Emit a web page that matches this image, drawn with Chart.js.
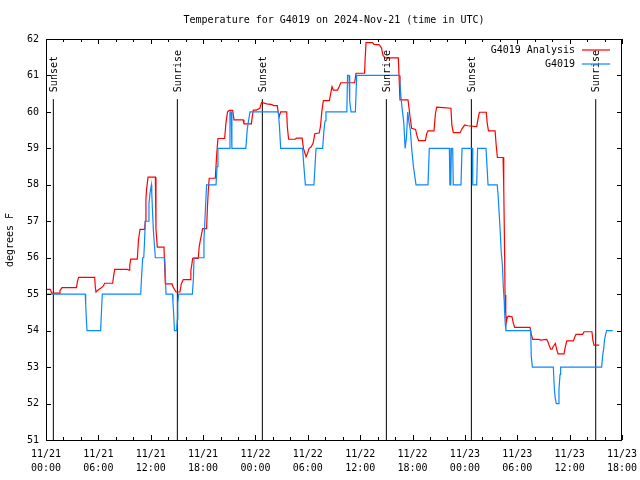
<!DOCTYPE html>
<html>
<head>
<meta charset="utf-8">
<script src="https://cdn.jsdelivr.net/npm/chart.js@4.4.0/dist/chart.umd.min.js"></script>
<style>
  html, body { margin: 0; padding: 0; background: #fff; }
  #wrap { width: 640px; height: 480px; }
</style>
</head>
<body>
<div id="wrap"><canvas id="tempChart" width="640" height="480"></canvas></div>
<script>
// Time is hours since 11/21 00:00 UTC
const xTickDates = ['11/21', '11/21', '11/21', '11/21', '11/22', '11/22', '11/22', '11/22', '11/23', '11/23', '11/23', '11/23'];
const xTickTimes = ['00:00', '06:00', '12:00', '18:00', '00:00', '06:00', '12:00', '18:00', '00:00', '06:00', '12:00', '18:00'];
const yTicks = [51, 52, 53, 54, 55, 56, 57, 58, 59, 60, 61, 62];

// G4019 Analysis (red)
const analysisHours = [0, 0.5, 0.65, 1.53, 1.6, 1.83, 3.5, 3.6, 3.74, 5.58, 5.65, 5.73, 6.0, 6.3, 6.55, 6.72, 7.64, 7.75, 7.87, 9.3, 9.55, 9.6, 9.7, 10.46, 10.6, 10.77, 11.3, 11.38, 11.45, 11.52, 11.69, 12.53, 12.6, 12.75, 13.52, 13.6, 13.67, 14.44, 14.6, 14.75, 14.9, 15.35, 15.5, 15.73, 16.5, 16.6, 16.72, 16.8, 17.45, 17.55, 17.7, 17.95, 18.4, 18.5, 18.6, 18.7, 19.4, 19.55, 19.7, 20.47, 20.62, 20.8, 21.0, 21.39, 21.54, 22.6, 22.68, 23.53, 23.65, 23.76, 24.1, 24.5, 24.7, 25.3, 25.9, 26.1, 26.5, 26.6, 26.72, 26.89, 27.58, 27.65, 27.8, 28.57, 28.7, 29.35, 29.5, 29.8, 29.95, 30.15, 30.35, 30.6, 30.8, 31.3, 31.45, 31.6, 31.78, 32.47, 32.62, 32.77, 32.92, 33.4, 33.6, 33.77, 35.37, 35.52, 36.5, 36.58, 36.67, 37.43, 37.58, 38.2, 38.45, 38.6, 38.85, 40.37, 40.45, 40.56, 41.48, 41.6, 41.75, 41.9, 42.35, 42.5, 42.7, 43.47, 43.62, 43.77, 44.46, 44.62, 44.77, 45.5, 46.4, 46.5, 46.67, 47.44, 47.7, 47.97, 48.3, 49.35, 49.5, 49.66, 50.45, 50.55, 50.7, 51.46, 51.58, 51.72, 52.37, 52.45, 52.53, 52.6, 52.68, 52.75, 52.87, 53.0, 53.4, 53.55, 53.7, 55.46, 55.6, 55.77, 56.5, 56.65, 57.37, 57.5, 57.65, 57.83, 57.98, 58.1, 58.37, 58.5, 58.67, 59.35, 59.5, 59.67, 60.43, 60.58, 60.73, 61.5, 61.65, 62.56, 62.65, 62.79, 63.4];
const analysisTemps = [55.13, 55.13, 55.03, 55.03, 55.1, 55.18, 55.18, 55.35, 55.46, 55.46, 55.2, 55.06, 55.12, 55.17, 55.22, 55.3, 55.3, 55.5, 55.68, 55.68, 55.66, 55.8, 55.96, 55.96, 56.5, 56.78, 56.78, 57.0, 57.6, 57.86, 58.21, 58.21, 56.78, 56.29, 56.29, 55.75, 55.28, 55.28, 55.18, 55.12, 55.06, 55.06, 55.28, 55.4, 55.4, 55.65, 55.83, 55.98, 55.98, 56.3, 56.5, 56.8, 56.8, 57.4, 57.86, 58.18, 58.18, 58.8, 59.27, 59.27, 59.7, 60.0, 60.04, 60.04, 59.78, 59.78, 59.67, 59.67, 59.9, 60.05, 60.05, 60.1, 60.26, 60.22, 60.2, 60.17, 60.17, 60.0, 59.87, 60.0, 60.0, 59.6, 59.25, 59.25, 59.28, 59.28, 59.0, 58.77, 58.85, 59.0, 59.03, 59.14, 59.4, 59.42, 59.6, 60.0, 60.31, 60.31, 60.5, 60.69, 60.6, 60.6, 60.7, 60.8, 60.8, 61.06, 61.06, 61.5, 61.9, 61.9, 61.85, 61.84, 61.75, 61.56, 61.48, 61.48, 61.0, 60.33, 60.33, 60.1, 59.8, 59.55, 59.52, 59.35, 59.21, 59.21, 59.4, 59.48, 59.48, 59.95, 60.13, 60.12, 60.1, 59.65, 59.43, 59.43, 59.55, 59.64, 59.62, 59.6, 59.8, 59.99, 59.99, 59.7, 59.48, 59.48, 59.1, 58.75, 58.75, 57.95, 56.49, 54.98, 54.47, 54.24, 54.38, 54.4, 54.38, 54.2, 54.09, 54.09, 53.9, 53.76, 53.76, 53.74, 53.76, 53.7, 53.6, 53.49, 53.49, 53.56, 53.65, 53.5, 53.36, 53.36, 53.55, 53.72, 53.72, 53.82, 53.9, 53.9, 53.97, 53.97, 53.75, 53.6, 53.6];

// G4019 observations (blue)
const obsHours = [0, 4.5, 4.55, 4.65, 4.7, 6.26, 6.35, 6.45, 10.85, 10.95, 11.08, 11.2, 11.3, 11.38, 11.7, 11.8, 11.92, 12.07, 12.12, 12.2, 12.3, 12.45, 12.53, 13.6, 13.65, 13.75, 14.5, 14.55, 14.62, 14.72, 14.97, 15.05, 15.1, 15.2, 16.77, 16.9, 16.96, 18.0, 18.1, 18.2, 18.3, 18.4, 19.48, 19.6, 19.7, 21.0, 21.08, 21.22, 21.3, 22.9, 23.05, 23.2, 23.38, 26.62, 26.75, 26.89, 29.4, 29.55, 29.72, 30.7, 30.82, 30.94, 31.7, 31.85, 31.97, 32.08, 34.47, 34.55, 34.72, 34.8, 34.95, 35.45, 35.6, 40.49, 40.7, 40.85, 41.0, 41.15, 41.3, 41.45, 41.6, 41.75, 41.9, 42.1, 42.4, 43.77, 43.92, 46.22, 46.28, 46.38, 46.45, 46.6, 46.67, 47.55, 47.67, 48.85, 48.9, 49.35, 49.45, 50.42, 50.65, 51.7, 51.8, 51.93, 52.05, 52.15, 52.3, 52.4, 52.5, 52.55, 52.62, 52.7, 55.54, 55.6, 55.73, 58.13, 58.25, 58.35, 58.47, 58.7, 58.78, 58.9, 58.97, 63.67, 63.78, 63.9, 64.0, 64.12, 64.25, 64.94];
const obsTemps = [55, 55, 54.7, 54.2, 54, 54, 54.5, 55, 55, 55.48, 56, 56, 56.49, 57, 57, 57.49, 57.77, 58, 57.77, 57.3, 56.76, 56.26, 56, 56, 55.75, 55, 55, 54.76, 54.5, 54, 54, 54.3, 54.75, 55, 55, 55.48, 56, 56, 56.5, 57, 57.5, 58, 58, 58.5, 59, 59, 60, 60, 59, 59, 59.5, 59.75, 60, 60, 59.6, 59, 59, 58.5, 58, 58, 58.5, 59, 59, 59.5, 59.75, 60, 60, 61, 61, 60.3, 60, 60, 61, 61, 60.33, 60, 59.7, 59, 59.3, 60, 59.7, 59.5, 59, 58.5, 58, 58, 59, 59, 58, 58, 59, 59, 58, 58, 59, 59, 58, 58, 59, 59, 58, 58, 57.72, 57.2, 56.7, 56.2, 55.78, 55.2, 54.83, 54.5, 54.2, 54, 54, 53.3, 53, 53, 52.4, 52.15, 52, 52, 52.4, 52.8, 53, 53, 53.3, 53.5, 53.75, 53.9, 54, 54];

// Sunrise / sunset markers
const sunHours = [0.84, 15.05, 24.79, 39.0, 48.74, 62.99];
const sunLabels = ['Sunset', 'Sunrise', 'Sunset', 'Sunrise', 'Sunset', 'Sunrise'];
const sunLineTop = 60.35;

const FONT = "'DejaVu Sans Mono', 'Liberation Mono', monospace";
const RED = '#ff0000';
const BLUE = '#0a88ff';

function toPoints(xs, ys) {
    return xs.map((x, i) => ({ x: x, y: ys[i] }));
}

const sunDatasets = sunHours.map(h => ({
    label: 'sun',
    data: [{ x: h, y: 51 }, { x: h, y: sunLineTop }],
    borderColor: '#000',
    borderWidth: 1,
    pointRadius: 0,
    order: 3
}));

// gnuplot-like frame, inward tics, title, labels, legend
const frame = {
    id: 'frame',
    afterDraw(chart) {
        const c = chart.ctx;
        const a = chart.chartArea;
        const xs = chart.scales.x;
        const ys = chart.scales.y;
        c.save();
        c.strokeStyle = '#000';
        c.lineWidth = 1;
        c.strokeRect(a.left + 0.5, a.top + 0.5, a.right - a.left - 1, a.bottom - a.top);

        c.beginPath();
        for (let h = 0; h <= 66; h += 2) {
            const px = Math.round(xs.getPixelForValue(h)) + 0.5;
            const len = h % 6 === 0 ? 5 : 3;
            c.moveTo(px, a.bottom); c.lineTo(px, a.bottom - len);
            c.moveTo(px, a.top); c.lineTo(px, a.top + len);
        }
        yTicks.forEach(v => {
            const py = Math.round(ys.getPixelForValue(v)) + 0.5;
            c.moveTo(a.left, py); c.lineTo(a.left + 5, py);
            c.moveTo(a.right, py); c.lineTo(a.right - 5, py);
        });
        c.stroke();

        c.fillStyle = '#000';
        c.font = '10px ' + FONT;

        // sunrise/sunset labels
        sunHours.forEach((h, i) => {
            const px = xs.getPixelForValue(h);
            const py = ys.getPixelForValue(sunLineTop) - 7;
            c.save();
            c.translate(px + 1, py);
            c.rotate(-Math.PI / 2);
            c.textAlign = 'left';
            c.textBaseline = 'middle';
            c.fillText(sunLabels[i], 0, 0);
            c.restore();
        });

        // title
        c.textAlign = 'center';
        c.textBaseline = 'middle';
        c.fillText('Temperature for G4019 on 2024-Nov-21 (time in UTC)', 334, 20);

        // y label
        c.save();
        c.translate(10, 240);
        c.rotate(-Math.PI / 2);
        c.fillText('degrees F', 0, 0);
        c.restore();

        // legend
        c.textAlign = 'right';
        c.fillText('G4019 Analysis', 575, 50);
        c.fillText('G4019', 575, 64);
        c.lineWidth = 1.2;
        c.strokeStyle = RED;
        c.beginPath(); c.moveTo(582, 50); c.lineTo(610, 50); c.stroke();
        c.strokeStyle = BLUE;
        c.beginPath(); c.moveTo(582, 64); c.lineTo(610, 64); c.stroke();
        c.restore();
    }
};

const ctx = document.getElementById('tempChart').getContext('2d');

const tempChart = new Chart(ctx, {
    type: 'line',
    data: {
        datasets: [
            {
                label: 'G4019 Analysis',
                data: toPoints(analysisHours, analysisTemps),
                borderColor: RED,
                borderWidth: 1.2,
                pointRadius: 0,
                tension: 0,
                order: 2
            },
            {
                label: 'G4019',
                data: toPoints(obsHours, obsTemps),
                borderColor: BLUE,
                borderWidth: 1.2,
                pointRadius: 0,
                tension: 0,
                order: 1
            },
            ...sunDatasets
        ]
    },
    options: {
        responsive: false,
        animation: false,
        layout: { padding: { top: 39, right: 18, left: 0, bottom: 0 } },
        scales: {
            x: {
                type: 'linear',
                min: 0,
                max: 66,
                afterFit: s => {
                    s.height = 40;
                    s.paddingLeft = 0;
                    s.paddingRight = 0;
                },
                afterBuildTicks: s => {
                    s.ticks = xTickTimes.map((t, i) => ({ value: i * 6 }));
                },
                grid: { display: false, drawTicks: false },
                border: { display: false },
                ticks: {
                    autoSkip: false,
                    maxRotation: 0,
                    padding: 8,
                    color: '#000',
                    font: { family: FONT, size: 10, lineHeight: 1.33 },
                    callback: (v) => {
                        const i = Math.round(v / 6);
                        return [xTickDates[i], xTickTimes[i]];
                    }
                }
            },
            y: {
                min: 51,
                max: 62,
                afterFit: s => {
                    s.width = 46;
                    s.paddingTop = 0;
                    s.paddingBottom = 0;
                },
                afterBuildTicks: s => {
                    s.ticks = yTicks.map(v => ({ value: v }));
                },
                grid: { display: false, drawTicks: false },
                border: { display: false },
                ticks: {
                    padding: 7,
                    color: '#000',
                    font: { family: FONT, size: 10 }
                }
            }
        },
        plugins: {
            legend: { display: false },
            title: { display: false },
            tooltip: { enabled: false }
        }
    },
    plugins: [frame]
});
</script>
</body>
</html>
